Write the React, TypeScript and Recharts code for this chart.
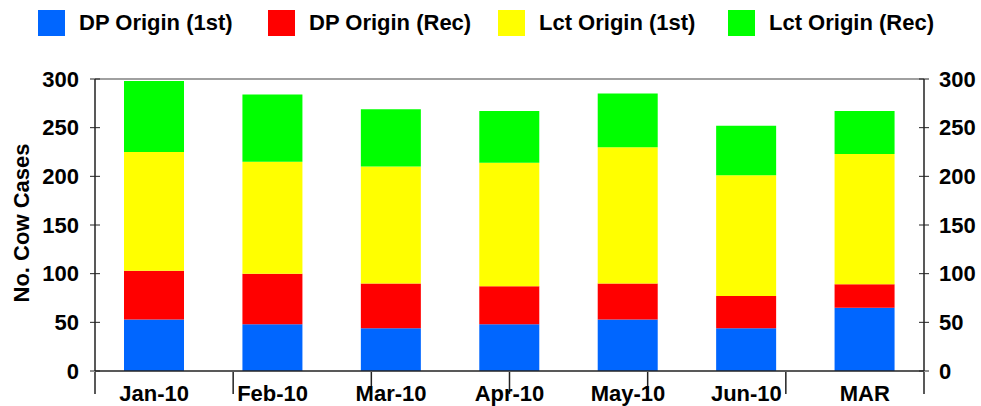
import React from "react"
import { Bar, BarChart, ReferenceLine, XAxis, YAxis } from "recharts"

const FONT = "'Liberation Sans', Arial, sans-serif"
const AXIS = "#222222"

const months = ["Jan-10", "Feb-10", "Mar-10", "Apr-10", "May-10", "Jun-10", "MAR"]
const dpFirst = [53, 48, 44, 48, 53, 44, 65]
const dpRec = [50, 52, 46, 39, 37, 33, 24]
const lctFirst = [122, 115, 120, 127, 140, 124, 134]
const lctRec = [73, 69, 59, 53, 55, 51, 44]
const yTicks = [0, 50, 100, 150, 200, 250, 300]

const series = [
  { key: "dpFirst", name: "DP Origin (1st)", color: "#0066FF" },
  { key: "dpRec", name: "DP Origin (Rec)", color: "#FF0000" },
  { key: "lctFirst", name: "Lct Origin (1st)", color: "#FFFF00" },
  { key: "lctRec", name: "Lct Origin (Rec)", color: "#00FF00" },
]

const data = months.map((month, i) => ({
  month,
  dpFirst: dpFirst[i],
  dpRec: dpRec[i],
  lctFirst: lctFirst[i],
  lctRec: lctRec[i],
}))

// tick lines between the categories
const edgeTicks = [...months.map((_, i) => i), months.length]

const LeftTick = (props: any) => {
  const { x, y, payload } = props
  const ax = x + 16
  return (
    <g>
      <line x1={ax - 5} x2={ax + 5} y1={y} y2={y} stroke={AXIS} />
      <text x={x} y={y} dy="0.355em" textAnchor="end" fill="#000" fontSize={22} fontWeight={700} fontFamily={FONT}>
        {payload.value}
      </text>
    </g>
  )
}

const RightTick = (props: any) => {
  const { x, y, payload } = props
  const ax = x - 15
  return (
    <g>
      <line x1={ax - 5} x2={ax + 5} y1={y} y2={y} stroke={AXIS} />
      <text x={x} y={y} dy="0.355em" textAnchor="start" fill="#000" fontSize={22} fontWeight={700} fontFamily={FONT}>
        {payload.value}
      </text>
    </g>
  )
}

const YLabel = (props: any) => {
  const vb = props.viewBox || {}
  const cx = (vb.x || 0) + 29
  const cy = (vb.y || 0) + (vb.height || 0) / 2 - 2
  return (
    <text
      x={cx}
      y={cy}
      transform={`rotate(-90, ${cx}, ${cy})`}
      textAnchor="middle"
      fill="#000"
      fontSize={22}
      fontWeight={700}
      fontFamily={FONT}
    >
      No. Cow Cases
    </text>
  )
}

function ChartLegend() {
  return (
    <div style={{ position: "absolute", left: 38, top: 10, display: "flex", fontFamily: FONT }}>
      {series.map((s) => (
        <div key={s.key} style={{ width: 230, height: 26, display: "flex", alignItems: "center" }}>
          <div style={{ width: 27, height: 26, background: s.color, marginRight: 14 }} />
          <span style={{ fontSize: 22, fontWeight: 700, lineHeight: "26px", color: "#000", whiteSpace: "nowrap" }}>
            {s.name}
          </span>
        </div>
      ))}
    </div>
  )
}

export default function App() {
  return (
    <div style={{ position: "absolute", left: 0, top: 0, width: 981, height: 406, background: "#fff" }}>
      <ChartLegend />
      <BarChart width={981} height={406} data={data} margin={{ top: 79, right: 0, bottom: 33, left: 0 }}>
        <XAxis
          xAxisId="edge"
          type="number"
          domain={[0, months.length]}
          ticks={edgeTicks}
          allowDataOverflow
          height={1}
          tickSize={22}
          stroke={AXIS}
          axisLine={false}
          tickLine={{ stroke: AXIS, strokeWidth: 1.5 }}
          tick={{ fontSize: 0 }}
          tickFormatter={() => ""}
          interval={0}
        />
        <XAxis
          dataKey="month"
          height={1}
          tickLine={false}
          tickSize={6}
          tickMargin={8}
          stroke={AXIS}
          axisLine={{ stroke: AXIS, strokeWidth: 1.5 }}
          interval={0}
          tick={{ fill: "#000", fontSize: 22, fontWeight: 700, fontFamily: FONT }}
        />
        <YAxis
          yAxisId="left"
          width={95}
          domain={[0, 300]}
          ticks={yTicks}
          interval={0}
          allowDataOverflow
          tickLine={false}
          tickSize={5}
          tickMargin={11}
          stroke={AXIS}
          axisLine={{ stroke: AXIS, strokeWidth: 1.5 }}
          tick={<LeftTick />}
          label={{ value: "No. Cow Cases", content: <YLabel /> }}
        />
        <YAxis
          yAxisId="right"
          orientation="right"
          width={57}
          domain={[0, 300]}
          ticks={yTicks}
          interval={0}
          allowDataOverflow
          tickLine={false}
          tickSize={5}
          tickMargin={10}
          stroke={AXIS}
          axisLine={{ stroke: AXIS, strokeWidth: 1.5 }}
          tick={<RightTick />}
        />
        <ReferenceLine yAxisId="left" y={300} stroke="#808080" strokeWidth={1.5} />
        {series.map((s) => (
          <Bar
            key={s.key}
            yAxisId="left"
            dataKey={s.key}
            name={s.name}
            stackId="a"
            fill={s.color}
            barSize={60}
            isAnimationActive={false}
          />
        ))}
      </BarChart>
    </div>
  )
}
